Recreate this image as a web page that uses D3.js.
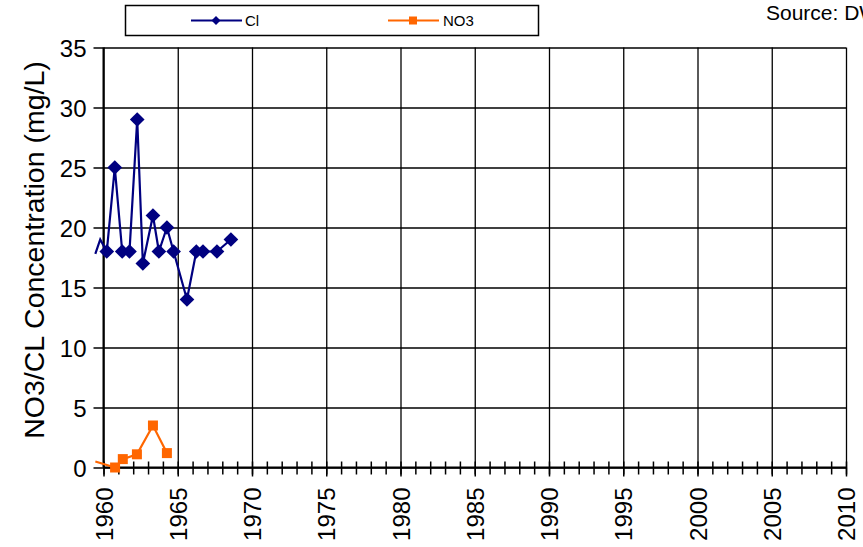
<!DOCTYPE html>
<html><head><meta charset="utf-8">
<script src="https://cdn.jsdelivr.net/npm/d3@7"></script>
<style>body{margin:0;background:#fff;overflow:hidden}svg{display:block;font-family:Arial,"Liberation Sans",sans-serif}</style>
</head><body><svg id="c" width="863" height="547"></svg>
<script>
// Data
const clYears = [1959.45, 1959.78, 1960.22, 1960.76, 1961.26, 1961.75, 1962.27, 1962.65, 1963.33, 1963.73, 1964.27, 1964.72, 1965.62, 1966.25, 1966.70, 1967.64, 1968.58];
const clValues = [17.8, 19, 18, 25, 18, 18, 29, 17, 21, 18, 20, 18, 14, 18, 18, 18, 19];
const no3Years = [1959.45, 1960.78, 1961.3, 1962.25, 1963.33, 1964.27];
const no3Values = [0.5, 0, 0.7, 1.1, 3.5, 1.2];
const xMajorTicks = d3.range(1960, 2011, 5);
const xMinorTicks = d3.range(1960, 2011, 1);
const yTicks = d3.range(0, 36, 5);
const seriesNames = ["Cl", "NO3"];
const yTitle = "NO3/CL Concentration (mg/L)";
const sourceText = "Source: DWR";

const svg = d3.select("#c");
const L = 103.5, R = 846, T = 47.5, B = 467.5;
const x = d3.scaleLinear().domain([1960, 2010]).range([L, R]);
const y = d3.scaleLinear().domain([0, 35]).range([B, T]);
const FONT = "Arial, 'Liberation Sans', sans-serif";

// gridlines
const gx = svg.append("g").attr("transform", `translate(0,${B})`)
  .call(d3.axisBottom(x).tickValues(xMajorTicks).tickSize(-(B - T)).tickFormat(""));
gx.select(".domain").remove();
gx.selectAll("line").attr("stroke", "#000").attr("stroke-width", 1.3);
const gy = svg.append("g").attr("transform", `translate(${L},0)`)
  .call(d3.axisLeft(y).tickValues(yTicks).tickSize(-(R - L)).tickFormat(""));
gy.select(".domain").remove();
gy.selectAll("line").attr("stroke", "#000").attr("stroke-width", 1.3);

// y axis
const ya = svg.append("g").attr("transform", `translate(${L},0)`)
  .call(d3.axisLeft(y).tickValues(yTicks).tickSize(10).tickPadding(7));
ya.select(".domain").attr("stroke", "#000").attr("stroke-width", 2).attr("d", `M0,${B}V${T}`);
ya.selectAll("line").attr("stroke", "#000").attr("stroke-width", 1.5);
ya.selectAll("text").attr("font-size", 24).attr("fill", "#000").attr("font-family", FONT).attr("dy", "0.36em");

// x axis minor ticks (crossing)
const xm = svg.append("g").attr("transform", `translate(0,${B})`)
  .call(d3.axisBottom(x).tickValues(xMinorTicks).tickFormat(""));
xm.select(".domain").remove();
xm.selectAll("line").attr("y1", -6).attr("y2", 7).attr("stroke", "#000").attr("stroke-width", 1.5);

// x axis major
const xa = svg.append("g").attr("transform", `translate(0,${B})`)
  .call(d3.axisBottom(x).tickValues(xMajorTicks).tickSize(9).tickFormat(d3.format("d")));
xa.select(".domain").attr("stroke", "#000").attr("stroke-width", 2).attr("d", `M${L},0H${R}`);
xa.selectAll("line").attr("stroke", "#000").attr("stroke-width", 1.5);
xa.selectAll("text")
  .attr("font-size", 24).attr("fill", "#000").attr("font-family", FONT)
  .attr("transform", "rotate(-90)")
  .attr("text-anchor", "end")
  .attr("x", -20).attr("y", 0).attr("dy", "0.36em");

// y title
svg.append("text")
  .attr("transform", `translate(44,250) rotate(-90)`)
  .attr("text-anchor", "middle").attr("font-size", 28.5).attr("fill", "#000")
  .text(yTitle);

// series
const cl = clYears.map((d, i) => ({ x: d, y: clValues[i] }));
const no3 = no3Years.map((d, i) => ({ x: d, y: no3Values[i] }));
const line = d3.line().x(d => x(d.x)).y(d => y(d.y));
const navy = "#000080", orange = "#FF6600";

svg.append("path").datum(cl).attr("d", line).attr("fill", "none").attr("stroke", navy).attr("stroke-width", 2.2);
svg.append("path").datum(no3).attr("d", line).attr("fill", "none").attr("stroke", orange).attr("stroke-width", 2.2);

const diamond = d3.symbol().type(d3.symbolSquare).size(108);
svg.append("g").selectAll("path").data(cl.filter(d => d.x >= 1960)).join("path")
  .attr("d", diamond)
  .attr("transform", d => `translate(${x(d.x)},${y(d.y)}) rotate(45)`)
  .attr("fill", navy);
const sq = d3.symbol().type(d3.symbolSquare).size(100);
svg.append("g").selectAll("path").data(no3.filter(d => d.x >= 1960)).join("path")
  .attr("d", sq)
  .attr("transform", d => `translate(${x(d.x)},${y(d.y)})`)
  .attr("fill", orange);

// legend
const lg = svg.append("g");
lg.append("rect").attr("x", 125.5).attr("y", 5.5).attr("width", 413).attr("height", 30)
  .attr("fill", "#fff").attr("stroke", "#000").attr("stroke-width", 1.5);
lg.append("line").attr("x1", 191).attr("x2", 242).attr("y1", 20.5).attr("y2", 20.5).attr("stroke", navy).attr("stroke-width", 2);
lg.append("path").attr("d", d3.symbol().type(d3.symbolSquare).size(40)).attr("transform", "translate(216,20.5) rotate(45)").attr("fill", navy);
lg.append("text").attr("x", 245).attr("y", 26).attr("font-size", 15).attr("fill", "#000").text(seriesNames[0]);
lg.append("line").attr("x1", 388).attr("x2", 439).attr("y1", 20.5).attr("y2", 20.5).attr("stroke", orange).attr("stroke-width", 2);
lg.append("path").attr("d", d3.symbol().type(d3.symbolSquare).size(64)).attr("transform", "translate(413,20.5)").attr("fill", orange);
lg.append("text").attr("x", 443).attr("y", 26).attr("font-size", 15).attr("fill", "#000").text(seriesNames[1]);

// source (cut at the right edge, as in the reference)
svg.append("text").attr("x", 766).attr("y", 20).attr("font-size", 21).attr("fill", "#000").text(sourceText);
</script></body></html>
